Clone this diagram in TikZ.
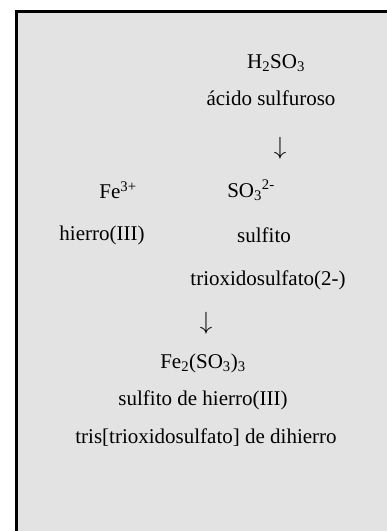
\documentclass[tikz,border=0pt]{standalone}
\usepackage{fontspec}
\setmainfont{Liberation Serif}
\definecolor{boxgray}{HTML}{E3E3E3}
\begin{document}
\begin{tikzpicture}[line cap=butt,line join=miter,x=1pt,y=1pt,
  txt/.style={inner sep=0pt,font=\fontsize{21}{25}\selectfont},
  arr/.style={inner sep=0pt,font=\fontsize{28}{30}\selectfont}]
\useasboundingbox (0,0) rectangle (387,-531);
\fill[boxgray] (16.5,-11) rectangle (400,-545);
\draw[line width=3pt] (16.5,-545) -- (16.5,-11) -- (400,-11);
% acid
\node[txt] (acid) at (276,-63) {H\textsubscript{2}SO\textsubscript{3}};
\node[txt] (acidname) at (271,-98) {ácido sulfuroso};
\node[arr] (arr1) at (280,-148) {$\downarrow$};
% ions
\node[txt] (fe) at (118,-190) {Fe\textsuperscript{3+}};
\node[txt] (so) at (251,-190) {SO\textsubscript{3}\textsuperscript{2-}};
\node[txt] (fename) at (102,-235) {hierro(III)};
\node[txt] (soname) at (264,-235) {sulfito};
\node[txt] (soname2) at (268,-280) {trioxidosulfato(2-)};
\node[arr] (arr2) at (206,-323) {$\downarrow$};
% salt
\node[txt] (salt) at (203,-363) {Fe\textsubscript{2}(SO\textsubscript{3})\textsubscript{3}};
\node[txt] (saltname) at (203,-400) {sulfito de hierro(III)};
\node[txt] (saltname2) at (206,-438) {tris[trioxidosulfato] de dihierro};
\end{tikzpicture}
\end{document}
